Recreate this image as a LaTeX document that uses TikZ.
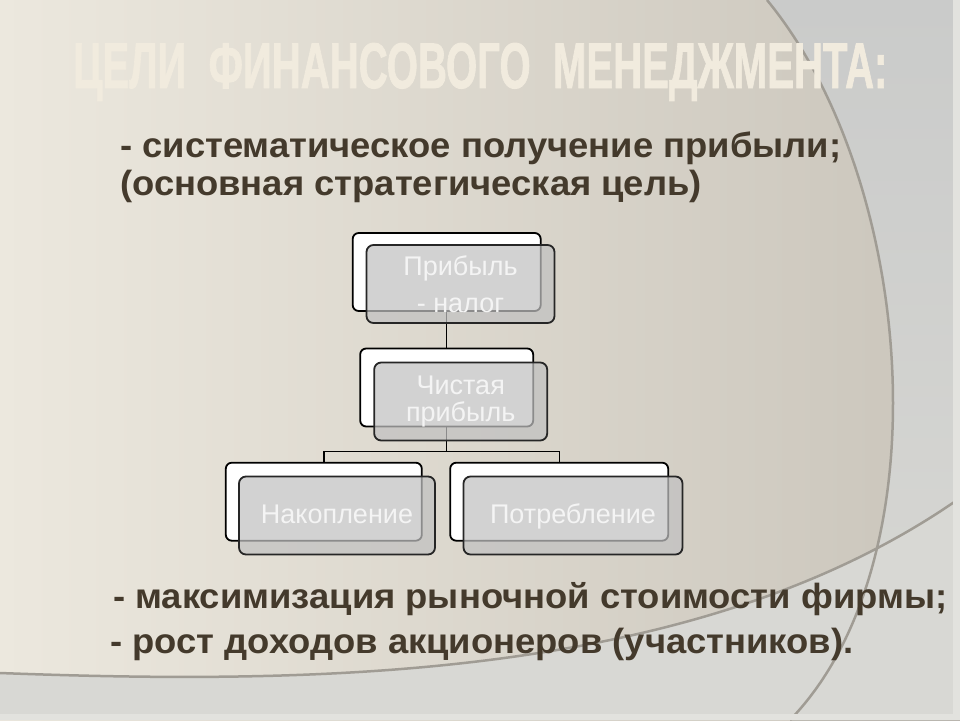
\documentclass[tikz,border=0pt]{standalone}
\usepackage{fontspec}
\usepackage{graphicx}
\setmainfont{Liberation Sans}
\newfontfamily\goalfont{Liberation Sans}[FakeStretch=1.04]
\newfontfamily\titlefont{Liberation Sans}[FakeBold=1.5]
\definecolor{bgleft}{RGB}{236,232,222}
\definecolor{bgright}{RGB}{202,197,187}
\definecolor{bgside}{RGB}{202,203,202}
\definecolor{bgsidelow}{RGB}{216,216,212}
\definecolor{bglow}{RGB}{216,216,212}
\definecolor{bgedge}{RGB}{226,226,222}
\definecolor{swoosh}{RGB}{160,156,148}
\definecolor{textbrown}{RGB}{68,58,44}
\definecolor{titlecream}{RGB}{241,235,222}
\definecolor{boxgray}{RGB}{193,193,193}
\definecolor{boxtext}{RGB}{244,244,244}
\begin{document}
\begin{tikzpicture}[x=1pt,y=-1pt,
    backbox/.style={draw=black,line width=1.8pt,fill=white,rounded corners=6pt,
      minimum height=78pt,inner sep=0pt},
    frontbox/.style={draw=black!85,line width=1.8pt,fill=boxgray,fill opacity=0.72,
      text opacity=1,rounded corners=7pt,minimum height=78pt,inner sep=0pt,
      text=boxtext,font=\fontsize{27}{27}\selectfont,align=center},
    leafcard/.style={frontbox,text height=15pt,text depth=0pt},
    point/.style={text=textbrown,font=\goalfont\bfseries\fontsize{35}{40}\selectfont,
      anchor=base west,inner sep=0pt},
    link/.style={line width=1.4pt},
    swooshline/.style={draw=swoosh,line width=2.5pt}]
  \useasboundingbox (0,0) rectangle (960,720);
  % background
  \fill[left color=bgleft,right color=bgright] (0,0) rectangle (960,720);
  \fill[top color=bgside,bottom color=bgsidelow]
    (767,0) .. controls (915,180) and (945,560) .. (790,720)
    -- (960,720) -- (960,0) -- cycle;
  \fill[bglow] (0,673) .. controls (320,685) and (700,680) .. (960,498)
    -- (960,720) -- (0,720) -- cycle;
  \draw[swooshline] (767,0) .. controls (915,180) and (945,560) .. (790,720);
  \draw[swooshline] (0,673) .. controls (320,685) and (700,680) .. (960,498);
  \fill[bgedge] (953,0) rectangle (960,720);
  \fill[bgedge] (0,714) rectangle (960,720);

  % title and goals
  \node[anchor=base west,inner sep=0pt,text=titlecream] (title) at (73,88)
    {\resizebox{814pt}{45pt}{\titlefont\bfseries ЦЕЛИ\ \ ФИНАНСОВОГО\ \ МЕНЕДЖМЕНТА:}};
  \node[point] (goal1) at (120,157) {- систематическое получение прибыли;};
  \node[point] (goal1b) at (120,195) {(основная стратегическая цель)};
  \node[point] (goal2) at (113,608) {- максимизация рыночной стоимости фирмы;};
  \node[point] (goal3) at (110,653) {- рост доходов акционеров (участников).};

  % back cards
  \node[backbox,minimum width=188pt] (b1) at (446.7,272) {};
  \node[backbox,minimum width=173pt] (b2) at (446.7,387.5) {};
  \node[backbox,minimum width=196pt] (b3) at (323.8,501.7) {};
  \node[backbox,minimum width=218pt] (b4) at (559.2,501.7) {};

  % tree
  \coordinate (fork) at (446.7,451.7);
  \draw[link] (b1.south) -- (b2.north);
  \draw[link] (b2.south) -- (fork);
  \draw[link] (fork) -| (b3.north);
  \draw[link] (fork) -| (b4.north);

  % front cards
  \node[frontbox,minimum width=188pt] (f1) at (460.5,284) {Прибыль\\[10pt]- налог};
  \node[frontbox,minimum width=173pt] (f2) at (460.7,401.5) {Чистая\\прибыль};
  \node[leafcard,minimum width=196pt] (f3) at (337,515.5) {Накопление};
  \node[leafcard,minimum width=219pt] (f4) at (573,515.5) {Потребление};
\end{tikzpicture}
\end{document}
